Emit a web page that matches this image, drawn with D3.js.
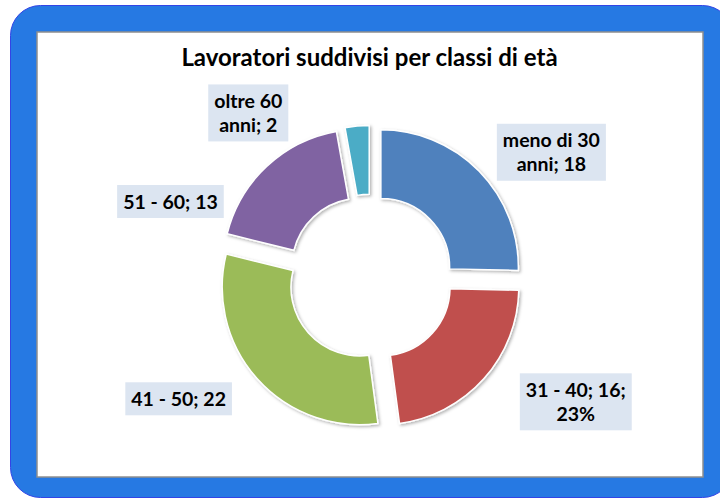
<!DOCTYPE html>
<html lang="it">
<head>
<meta charset="UTF-8">
<title>Lavoratori suddivisi per classi di età</title>
<script src="https://d3js.org/d3.v7.min.js"></script>
<style>
  html, body { margin: 0; padding: 0; background: #fff; }
  text { font-family: Lato, "Open Sans", sans-serif; font-weight: bold; fill: #000; }
</style>
</head>
<body>
<div id="chart"></div>
<script>
// data
var categories = ["meno di 30 anni", "31 - 40", "41 - 50", "51 - 60", "oltre 60 anni"];
var values = [18, 16, 22, 13, 2];
var showPercent = [false, true, false, false, false];
var palette = ["#4f81bd", "#c0504d", "#9bbb59", "#8064a2", "#4bacc6"];
var chartTitle = "Lavoratori suddivisi per classi di età";

// layout
var W = 720, H = 499;
var cx = 370.5, cy = 277.5;
var outerR = 137.5, innerR = outerR * 0.5, explode = 14.5;
// label anchor: angle (deg from top, clockwise), distance from centre, wrap width
var labelLayout = [
  {angle: 55.3, dist: 220, wrap: 105},
  {angle: 121.2, dist: 240, wrap: 115},
  {angle: 237.7, dist: 227, wrap: 200},
  {angle: 290.8, dist: 214, wrap: 200},
  {angle: 323.4, dist: 205, wrap: 78}
];

var svg = d3.select("#chart").append("svg")
    .attr("width", W).attr("height", H);

var defs = svg.append("defs");
var f = defs.append("filter").attr("id", "shadow")
    .attr("x", "-20%").attr("y", "-20%").attr("width", "140%").attr("height", "140%");
f.append("feDropShadow").attr("dx", 1.5).attr("dy", 1.5)
    .attr("stdDeviation", 1.5).attr("flood-color", "#000").attr("flood-opacity", 0.3);

// blue frame
svg.append("rect")
    .attr("x", 10.5).attr("y", 5.5).attr("width", 722).attr("height", 492)
    .attr("rx", 30)
    .style("fill", "#2679e3").style("stroke", "#3344e6").style("stroke-width", 1);
svg.append("rect")
    .attr("x", 37).attr("y", 32).attr("width", 666).attr("height", 445)
    .style("fill", "#fff").style("stroke", "#8f8f8f").style("stroke-width", 1.5);

// title
svg.append("text")
    .attr("x", cx - 1).attr("y", 66)
    .attr("text-anchor", "middle")
    .style("font-size", "24px")
    .text(chartTitle);

var total = d3.sum(values);
var pie = d3.pie().sort(null).value(function(d) { return d; });
var arcs = pie(values);
var arc = d3.arc().innerRadius(innerR).outerRadius(outerR);

var g = svg.append("g").attr("transform", "translate(" + cx + "," + cy + ")");

g.selectAll("path.slice")
  .data(arcs)
  .enter().append("path")
    .attr("class", "slice")
    .attr("transform", function(d) {
      var a = (d.startAngle + d.endAngle) / 2;
      return "translate(" + (explode * Math.sin(a)) + "," + (-explode * Math.cos(a)) + ")";
    })
    .attr("d", arc)
    .style("fill", function(d, i) { return palette[i]; })
    .style("stroke", "#fff")
    .style("stroke-width", 1.5)
    .attr("filter", "url(#shadow)");

// data labels
function wrapWords(str, maxW, size) {
  var tmp = svg.append("text").style("font-size", size + "px");
  var words = str.split(" "), lines = [], cur = "";
  words.forEach(function(w) {
    var test = cur ? cur + " " + w : w;
    tmp.text(test);
    if (cur && tmp.node().getComputedTextLength() > maxW) { lines.push(cur); cur = w; }
    else cur = test;
  });
  lines.push(cur);
  tmp.remove();
  return lines;
}

var fontSize = 19.5, lineH = 24, padX = 6, padY = 4.5;
arcs.forEach(function(d, i) {
  var txt = categories[i] + "; " + values[i];
  if (showPercent[i]) txt += "; " + Math.round(values[i] / total * 100) + "%";
  var lines = wrapWords(txt, labelLayout[i].wrap, fontSize);
  var a = labelLayout[i].angle * Math.PI / 180;
  var lx = cx + labelLayout[i].dist * Math.sin(a);
  var ly = cy - labelLayout[i].dist * Math.cos(a);

  var lg = svg.append("g").attr("transform", "translate(" + lx + "," + ly + ")");
  var box = lg.append("rect").style("fill", "#dce5f1");
  var t = lg.append("text").attr("text-anchor", "middle").style("font-size", fontSize + "px");
  lines.forEach(function(s, j) {
    t.append("tspan")
      .attr("x", 0)
      .attr("y", (j - (lines.length - 1) / 2) * lineH)
      .attr("dy", "0.36em")
      .text(s);
  });
  var bw = d3.max(t.selectAll("tspan").nodes(), function(n) { return n.getComputedTextLength(); });
  var bh = lines.length * lineH + padY * 2;
  box.attr("x", -bw / 2 - padX).attr("y", -bh / 2)
     .attr("width", bw + padX * 2).attr("height", bh);
});
</script>
</body>
</html>
